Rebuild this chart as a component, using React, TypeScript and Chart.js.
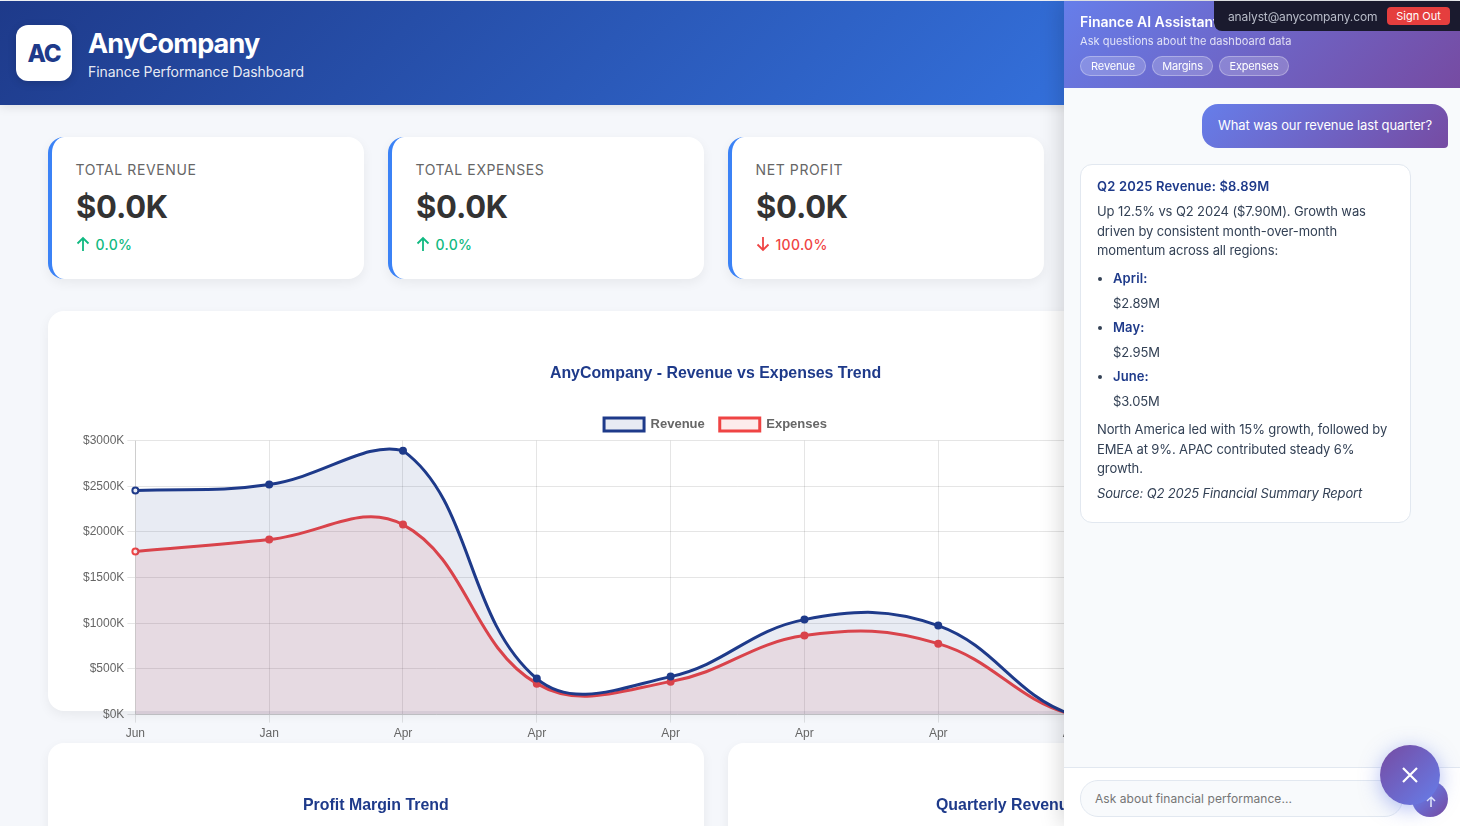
import { useEffect, useRef, type CSSProperties } from 'react'
import { Chart, registerables } from 'chart.js'
Chart.register(...registerables)

// the last two points sit behind the assistant panel
const MONTHS = ['Jun', 'Jan', 'Apr', 'Apr', 'Apr', 'Apr', 'Apr', 'Apr', 'Apr', 'Apr']
const REVENUE = [2453, 2518, 2890, 394, 416, 1040, 975, 0, 0, 0]
const EXPENSES = [1785, 1916, 2080, 339, 361, 865, 777, 0, 0, 0]

const KPI_LABELS = ['TOTAL REVENUE', 'TOTAL EXPENSES', 'NET PROFIT']
const KPI_VALUES = ['$0.0K', '$0.0K', '$0.0K']
const KPI_CHANGES = ['0.0%', '0.0%', '100.0%']
const KPI_UP = [true, true, false]

const CHIPS = ['Revenue', 'Margins', 'Expenses']
const CHIP_X = [1080, 1152, 1219]
const CHIP_W = [66, 61, 70]

const INTER = 'Inter, sans-serif'
const HELV = '"Liberation Sans", Arial, sans-serif'

const abs = (left: number, top: number, extra: CSSProperties = {}): CSSProperties => ({
  position: 'absolute', left, top, whiteSpace: 'nowrap', ...extra,
})

function TrendChart() {
  const canvasRef = useRef<HTMLCanvasElement>(null)

  useEffect(() => {
    if (!canvasRef.current) return
    const chart = new Chart(canvasRef.current, {
      type: 'line',
      data: {
        labels: MONTHS,
        datasets: [
          {
            label: 'Revenue',
            data: REVENUE,
            borderColor: '#1e3a8a',
            backgroundColor: 'rgba(30,58,138,0.1)',
            pointBackgroundColor: MONTHS.map((_, i) => (i === 0 ? '#e8ebf4' : '#1e3a8a')),
            pointBorderColor: '#1e3a8a',
            borderWidth: 3,
            pointRadius: 3,
            pointBorderWidth: 2,
            fill: 'origin',
            tension: 0.4,
          },
          {
            label: 'Expenses',
            data: EXPENSES,
            borderColor: '#ef4444',
            backgroundColor: 'rgba(239,68,68,0.1)',
            pointBackgroundColor: MONTHS.map((_, i) => (i === 0 ? '#fdecec' : '#ef4444')),
            pointBorderColor: '#ef4444',
            borderWidth: 3,
            pointRadius: 3,
            pointBorderWidth: 2,
            fill: 'origin',
            tension: 0.4,
          },
        ],
      },
      options: {
        animation: false,
        responsive: false,
        maintainAspectRatio: false,
        plugins: {
          title: {
            display: true,
            text: 'AnyCompany - Revenue vs Expenses Trend',
            color: '#1e3a8a',
            font: { size: 15.9, weight: 'bold', family: HELV },
            padding: { top: 21, bottom: 20 },
          },
          legend: {
            maxHeight: 37.5,
            labels: { color: '#666', padding: 15, font: { size: 13, weight: 'bold', family: HELV } },
          },
        },
        scales: {
          y: {
            min: 0,
            max: 3000,
            afterFit: s => { s.width += 2 },
            ticks: {
              stepSize: 500,
              color: '#666',
              font: { size: 12, family: HELV },
              callback: v => `$${v}K`,
            },
          },
          x: {
            ticks: { color: '#666', padding: 4, font: { size: 12, family: HELV }, maxRotation: 0, autoSkip: false },
          },
        },
      },
    })
    return () => chart.destroy()
  }, [])

  return <canvas ref={canvasRef} width={1275} height={402} style={abs(78, 343, { width: 1275, height: 402, display: 'block' })} />
}

function KpiCard({ i }: { i: number }) {
  const left = 48 + i * 340
  const color = KPI_UP[i] ? '#10b981' : '#ef4444'
  return (
    <div style={abs(left, 137, { width: 316, height: 142, background: '#fff', borderRadius: 16, borderLeft: '4px solid #3b82f6', boxSizing: 'border-box', boxShadow: '0 4px 12px rgba(0,0,0,0.06)' })}>
      <div style={abs(23.5, 24, { fontSize: 14, lineHeight: '18px', letterSpacing: 0.6, color: '#666' })}>{KPI_LABELS[i]}</div>
      <div style={abs(24, 50, { fontSize: 31, lineHeight: '40px', fontWeight: 700, letterSpacing: -0.2, color: '#333' })}>{KPI_VALUES[i]}</div>
      <svg width="16" height="16" viewBox="0 0 16 16" style={abs(23, 99)}>
        <path d={KPI_UP[i] ? 'M8 15V2M2.5 7.5L8 2l5.5 5.5' : 'M8 1v13M2.5 8.5L8 14l5.5-5.5'} stroke={color} strokeWidth="1.8" fill="none" />
      </svg>
      <div style={abs(43.5, 98.5, { fontSize: 14, lineHeight: '18px', fontWeight: 500, letterSpacing: 0.3, color })}>{KPI_CHANGES[i]}</div>
    </div>
  )
}

const answerLine = (top: number, extra: CSSProperties = {}): CSSProperties =>
  abs(1097, top, { fontSize: 13, lineHeight: '20px', letterSpacing: -0.11, color: '#334155', ...extra })

function Panel() {
  const grad = 'linear-gradient(135deg, #667eea 0%, #764ba2 100%)'
  return (
    <div style={{ position: 'absolute', left: 0, top: 0, width: 1460, height: 826, pointerEvents: 'none' }}>
      <div style={abs(1064, 1, { width: 396, height: 825, background: '#f8fafc', boxShadow: '-4px 0 20px rgba(0,0,0,0.15)' })} />
      <div style={abs(1064, 1, { width: 396, height: 87, background: grad })} />
      <div style={abs(1080, 13, { fontSize: 14, lineHeight: '18px', fontWeight: 600, color: '#fff' })}>Finance AI Assistant</div>
      <div style={abs(1080, 34, { fontSize: 11, lineHeight: '14px', letterSpacing: 0.04, color: 'rgba(255,255,255,0.8)' })}>Ask questions about the dashboard data</div>
      {CHIPS.map((c, i) => (
        <div key={c} style={abs(CHIP_X[i], 56, { width: CHIP_W[i], height: 20, boxSizing: 'border-box', textAlign: 'center', fontSize: 11, lineHeight: '18px', letterSpacing: -0.15, color: '#fff', background: 'rgba(255,255,255,0.2)', border: '1px solid rgba(255,255,255,0.3)', borderRadius: 10 })}>{c}</div>
      ))}

      <div style={abs(1214, 1, { width: 246, height: 30, background: '#1a1a2e', borderBottomLeftRadius: 8 })} />
      <div style={abs(1228, 9, { fontSize: 12, lineHeight: '16px', letterSpacing: -0.13, color: '#b8bcc8' })}>analyst@anycompany.com</div>
      <div style={abs(1387, 7, { width: 63, height: 18, background: '#e53e3e', borderRadius: 4, textAlign: 'center', fontSize: 11, lineHeight: '18px', color: '#fff' })}>Sign Out</div>

      <div style={abs(1202, 104, { width: 246, height: 44, background: grad, borderRadius: '16px 16px 4px 16px', textAlign: 'center', fontSize: 13, lineHeight: '43px', letterSpacing: -0.12, color: '#fff' })}>What was our revenue last quarter?</div>

      <div style={abs(1080, 164, { width: 331, height: 359, boxSizing: 'border-box', background: '#fff', border: '1px solid #e2e8f0', borderRadius: 12 })} />
      <div style={answerLine(176, { fontWeight: 600, letterSpacing: 0.17, color: '#1e3a8a' })}>Q2 2025 Revenue: $8.89M</div>
      <div style={answerLine(201)}>Up 12.5% vs Q2 2024 ($7.90M). Growth was</div>
      <div style={answerLine(221)}>driven by consistent month-over-month</div>
      <div style={answerLine(240)}>momentum across all regions:</div>
      <div style={abs(1098, 277, { width: 4, height: 4, borderRadius: 2, background: '#334155' })} />
      <div style={answerLine(268, { left: 1113, fontWeight: 600, letterSpacing: 0.1, color: '#1e3a8a' })}>April:</div>
      <div style={answerLine(293, { left: 1113 })}>$2.89M</div>
      <div style={abs(1098, 326, { width: 4, height: 4, borderRadius: 2, background: '#334155' })} />
      <div style={answerLine(317, { left: 1113, fontWeight: 600, letterSpacing: 0.1, color: '#1e3a8a' })}>May:</div>
      <div style={answerLine(342, { left: 1113 })}>$2.95M</div>
      <div style={abs(1098, 375, { width: 4, height: 4, borderRadius: 2, background: '#334155' })} />
      <div style={answerLine(366, { left: 1113, fontWeight: 600, letterSpacing: 0.1, color: '#1e3a8a' })}>June:</div>
      <div style={answerLine(391, { left: 1113 })}>$3.05M</div>
      <div style={answerLine(419)}>North America led with 15% growth, followed by</div>
      <div style={answerLine(439)}>EMEA at 9%. APAC contributed steady 6%</div>
      <div style={answerLine(458)}>growth.</div>
      <div style={answerLine(483, { fontStyle: 'italic', letterSpacing: -0.15 })}>Source: Q2 2025 Financial Summary Report</div>

      <div style={abs(1064, 767, { width: 396, height: 59, background: '#fff', borderTop: '1px solid #e2e8f0', boxSizing: 'border-box' })} />
      <div style={abs(1080, 780, { width: 323, height: 37, boxSizing: 'border-box', background: '#f8fafc', border: '1px solid #e2e8f0', borderRadius: 18, paddingLeft: 14, fontSize: 12, letterSpacing: 0.06, lineHeight: '35px', color: '#757575' })}>Ask about financial performance...</div>
      <div style={abs(1412, 781, { width: 36, height: 36, borderRadius: 18, background: grad })} />
      <svg width="16" height="16" viewBox="0 0 16 16" style={abs(1423, 793)}>
        <path d="M8 14V4M4 8l4-4 4 4" stroke="#fff" strokeWidth="1.5" fill="none" />
      </svg>
      <div style={abs(1380, 745, { width: 60, height: 60, borderRadius: 30, background: 'linear-gradient(135deg, #764ba2 0%, #667eea 100%)', boxShadow: '0 4px 20px rgba(102,126,234,0.5)' })} />
      <svg width="18" height="18" viewBox="0 0 18 18" style={abs(1401, 766)}>
        <path d="M2 2L16 16M16 2L2 16" stroke="#fff" strokeWidth="2.2" />
      </svg>
    </div>
  )
}

export default function App() {
  return (
    <div style={{ position: 'fixed', inset: 0, overflow: 'hidden', background: '#f5f7fb', fontFamily: INTER }}>
      <div style={abs(0, 1, { width: 1460, height: 104, background: 'linear-gradient(135deg, #1e3a8a 0%, #3b82f6 100%)', boxShadow: '0 2px 10px rgba(0,0,0,0.1)' })} />
      <div style={abs(16, 25, { width: 56, height: 56, background: '#fff', borderRadius: 12, textAlign: 'center', fontSize: 24, lineHeight: '58px', fontWeight: 800, letterSpacing: -1, color: '#1e3a8a', boxShadow: '0 2px 8px rgba(0,0,0,0.15)' })}>AC</div>
      <div style={abs(88, 27, { fontSize: 27, lineHeight: '34px', fontWeight: 700, letterSpacing: -0.8, color: '#fff' })}>AnyCompany</div>
      <div style={abs(88, 63, { fontSize: 14, lineHeight: '18px', letterSpacing: -0.07, color: 'rgba(255,255,255,0.9)' })}>Finance Performance Dashboard</div>

      {KPI_LABELS.map((_, i) => <KpiCard key={i} i={i} />)}

      <div style={abs(48, 311, { width: 1364, height: 400, background: '#fff', borderRadius: 16, boxShadow: '0 4px 12px rgba(0,0,0,0.06)' })} />
      <TrendChart />

      <div style={abs(48, 743, { width: 656, height: 200, background: '#fff', borderRadius: 16, boxShadow: '0 4px 12px rgba(0,0,0,0.06)' })} />
      <div style={abs(728, 743, { width: 656, height: 200, background: '#fff', borderRadius: 16, boxShadow: '0 4px 12px rgba(0,0,0,0.06)' })} />
      <div style={abs(303, 795, { fontFamily: HELV, fontSize: 15.9, lineHeight: '19px', fontWeight: 700, color: '#1e3a8a' })}>Profit Margin Trend</div>
      <div style={abs(936, 795, { fontFamily: HELV, fontSize: 15.9, lineHeight: '19px', fontWeight: 700, color: '#1e3a8a' })}>Quarterly Revenue</div>

      <Panel />
    </div>
  )
}
